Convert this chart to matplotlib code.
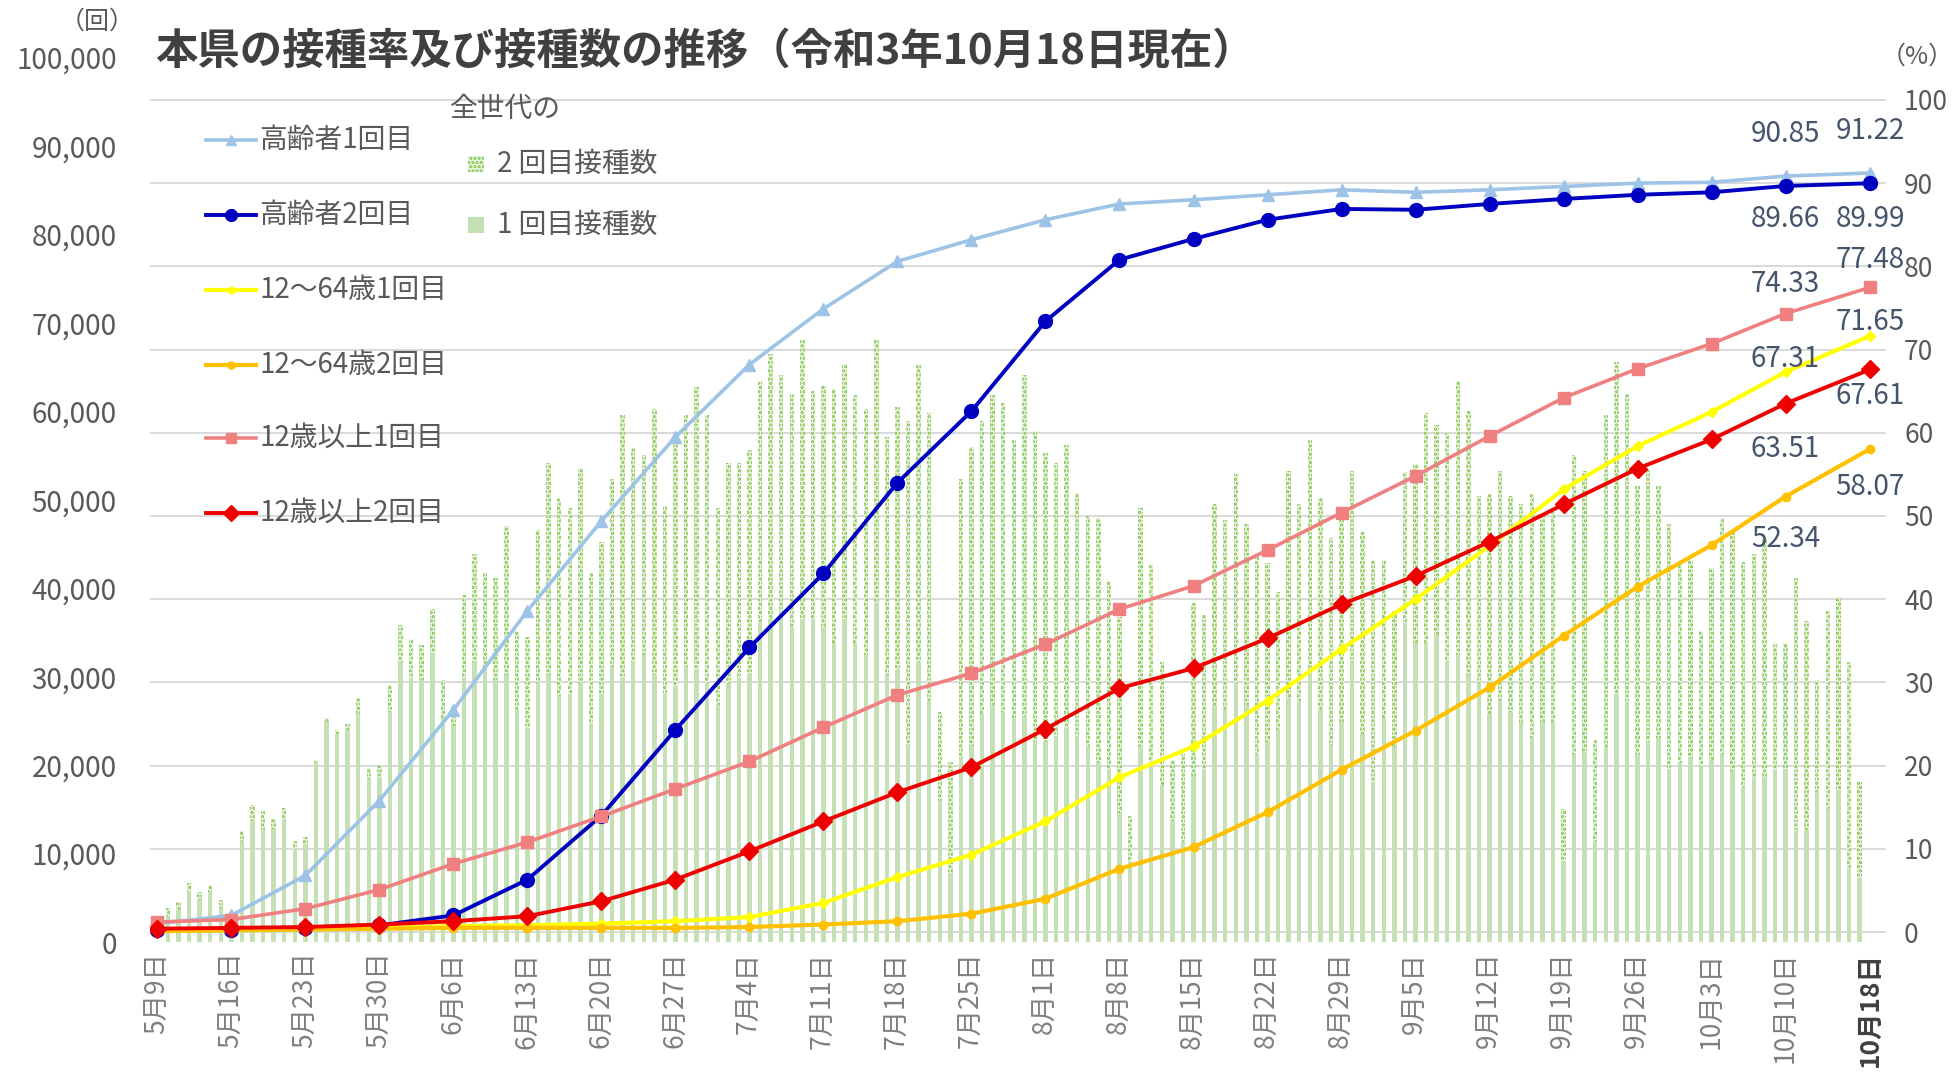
import datetime as dt
import matplotlib
matplotlib.use("Agg")
import matplotlib.pyplot as plt
from matplotlib.lines import Line2D
from matplotlib.patches import Rectangle
from matplotlib.ticker import FuncFormatter

plt.rcParams['font.family'] = ['Noto Sans CJK JP', 'DejaVu Sans']
plt.rcParams['hatch.linewidth'] = 1.6

start = dt.date(2021, 5, 9)

# weekly points (days since 5/9) and the last day 10/18
week_days = list(range(0, 155, 7)) + [162]
week_labels = []
for d in week_days:
    day = start + dt.timedelta(days=d)
    week_labels.append(f"{day.month}月{day.day}日")

# daily counts, from 5/10 (day 1) to 10/17 (day 161)
bar_days = list(range(1, 162))
dose1 = [2900, 3600, 5800, 4700, 5600, 3800, 2600, 11400, 13700, 12500,
         12800, 13700, 10500, 11000, 20400, 24900, 23500, 24000, 25800, 18400,
         18500, 26000, 31600, 29800, 29600, 32700, 25300, 24400, 29800, 31600,
         30700, 29500, 30200, 26200, 24200, 29300, 30200, 27800, 28000, 29300,
         24600, 28000, 31100, 29800, 31600, 32500, 30200, 28000, 28900, 31100,
         30700, 29300, 26700, 29300, 29800, 30200, 36100, 36500, 37400, 35600,
         36500, 36500, 35600, 33800, 36500, 33800, 32500, 38300, 30200, 30700,
         22200, 31600, 27100, 15900, 7800, 20800, 22200, 25800, 26700, 26000,
         25300, 25500, 22600, 22600, 23300, 24200, 23300, 22200, 20400, 19500,
         14600, 9200, 22200, 19900, 17700, 13700, 11400, 18800, 19500, 26700,
         26200, 29300, 26700, 21300, 22600, 24000, 27600, 27100, 31100, 26200,
         22200, 24900, 31600, 23500, 18100, 25300, 22200, 36100, 33800, 33800,
         34700, 31600, 32500, 30200, 29300, 25800, 27100, 26000, 24900, 23100,
         24900, 24900, 9200, 21300, 21500, 11400, 22000, 28000, 27100, 21300,
         22600, 23100, 19500, 20200, 20800, 19900, 20600, 21300, 19300, 17500,
         18600, 18600, 19500, 19500, 12500, 12500, 17000, 15000, 17200, 8300,
         7200]
dose2 = [900, 900, 900, 900, 900, 900, 400, 1100, 1800, 2300,
         1100, 1500, 900, 900, 200, 400, 500, 600, 1800, 1300,
         1500, 3100, 4200, 4500, 4000, 4900, 4300, 2300, 9400, 12300,
         11000, 11700, 16800, 9000, 10300, 17300, 24000, 22400, 21100, 24300,
         17100, 17200, 21300, 29800, 24200, 22600, 30100, 21300, 27800, 28500,
         32000, 30300, 22400, 24900, 24400, 25400, 27300, 30000, 26700, 26400,
         31600, 25800, 27300, 28700, 28900, 28000, 27800, 29800, 26900, 29800,
         36700, 33600, 32700, 10100, 12600, 31600, 33800, 33100, 35100, 34900,
         31400, 38600, 35200, 32700, 30900, 32000, 27500, 26000, 27500, 21300,
         22100, 5100, 26900, 22700, 13900, 6900, 9900, 19500, 17500, 22800,
         21500, 23600, 20600, 22400, 20200, 15600, 25700, 22400, 25600, 24000,
         23500, 23700, 21700, 22900, 25100, 17900, 15200, 17000, 20200, 26000,
         23800, 26000, 30900, 29800, 21100, 24800, 26200, 24400, 24600, 27500,
         23300, 23700, 5800, 33800, 31800, 11400, 37600, 37600, 34900, 30200,
         30900, 28400, 27800, 23000, 22400, 15300, 21700, 26600, 27100, 25500,
         25300, 27100, 14300, 14300, 28700, 23800, 12600, 22400, 21800, 23300,
         10900]

# vaccination rates (%)
elder1 = [1.0, 2.0, 6.8, 15.8, 26.7, 38.6, 49.4, 59.5, 68.2, 74.9, 80.6, 83.2,
          85.6, 87.5, 88.0, 88.6, 89.2, 88.9, 89.2, 89.6, 90.0, 90.1, 90.85, 91.22]
elder2 = [0.2, 0.3, 0.5, 0.8, 2.0, 6.3, 14.0, 24.3, 34.2, 43.1, 54.0, 62.6,
          73.4, 80.8, 83.3, 85.6, 86.9, 86.8, 87.5, 88.1, 88.6, 88.9, 89.66, 89.99]
age1 = [0.2, 0.3, 0.4, 0.5, 0.7, 0.8, 1.0, 1.3, 1.8, 3.5, 6.6, 9.3,
        13.3, 18.6, 22.3, 27.8, 34.0, 40.0, 46.4, 53.2, 58.4, 62.5, 67.31, 71.65]
age2 = [0.1, 0.2, 0.3, 0.4, 0.5, 0.5, 0.5, 0.5, 0.6, 0.9, 1.3, 2.2,
        4.0, 7.6, 10.2, 14.4, 19.5, 24.2, 29.4, 35.6, 41.5, 46.5, 52.34, 58.07]
over1 = [1.2, 1.5, 2.8, 5.1, 8.2, 10.8, 13.9, 17.2, 20.5, 24.6, 28.5, 31.1,
         34.6, 38.8, 41.6, 45.9, 50.4, 54.8, 59.6, 64.2, 67.7, 70.7, 74.33, 77.48]
over2 = [0.4, 0.5, 0.6, 0.9, 1.3, 1.9, 3.7, 6.3, 9.7, 13.3, 16.8, 19.8,
         24.4, 29.3, 31.7, 35.3, 39.4, 42.8, 46.9, 51.4, 55.7, 59.2, 63.51, 67.61]

series = [
    ("高齢者1回目", elder1, "#9dc3e6", "^", 9, 2.6),
    ("高齢者2回目", elder2, "#0000c0", "o", 10, 2.8),
    ("12～64歳1回目", age1, "#ffff00", "D", 5, 3.0),
    ("12～64歳2回目", age2, "#ffc000", "o", 6, 3.0),
    ("12歳以上1回目", over1, "#f08080", "s", 9, 2.6),
    ("12歳以上2回目", over2, "#ee0000", "D", 9, 2.8),
]

# end labels: (x index, series values, dy offset in %)
end_labels = [
    (-2, elder1, 5.0), (-1, elder1, 5.0),
    (-2, elder2, -4.0), (-1, elder2, -4.3),
    (-2, over1, 3.5), (-1, over1, 3.3),
    (-1, age1, 1.7), (-2, age1, 1.6),
    (-1, over2, -3.2), (-2, over2, -5.5),
    (-1, age2, -4.6), (-2, age2, -5.1),
]

W, H = 1959, 1072
fig = plt.figure(figsize=(W / 100, H / 100), dpi=100)
ax = fig.add_axes([150 / W, 130 / H, (1886 - 150) / W, (1014.5 - 130) / H])
ax2 = ax.twinx()

left_lim = (0, 100000)
right_lim = (-1.2, 105.1)
ax.set_ylim(*left_lim)
ax2.set_ylim(*right_lim)
ax.set_xlim(-0.7, 163.5)

# gridlines follow the right axis, drawn under the bars
for p in range(0, 101, 10):
    v = left_lim[0] + (p - right_lim[0]) / (right_lim[1] - right_lim[0]) * (left_lim[1] - left_lim[0])
    ax.axhline(v, color="#d9d9d9", lw=1.4, zorder=0)

ax.bar(bar_days, dose1, width=0.42, color="#c5e0b4", lw=0, zorder=2)
ax.bar(bar_days, dose2, bottom=dose1, width=0.42, facecolor="#eef7e6",
       edgecolor="#7cc242", hatch="....", lw=0, zorder=2)

for name, vals, col, mk, ms, lw in series:
    ax2.plot(week_days, vals, color=col, marker=mk, markersize=ms, lw=lw, zorder=3)

for idx, vals, dy in end_labels:
    ax2.text(week_days[idx], vals[idx] + dy, f"{vals[idx]:.2f}", ha="center", va="center",
             fontsize=20, color="#44546a")

for a in (ax, ax2):
    for s in a.spines.values():
        s.set_visible(False)

ax.set_yticks(range(0, 100001, 10000))
ax.yaxis.set_major_formatter(FuncFormatter(lambda v, p: f"{int(v):,}"))
ax.tick_params(axis="y", length=0, pad=24, labelsize=20, labelcolor="#595959")
ax2.set_yticks(range(0, 101, 10))
ax2.tick_params(axis="y", length=0, pad=13, labelsize=19, labelcolor="#595959")

ax.set_xticks(week_days)
ax.set_xticklabels(week_labels, rotation=90, va="top")
ax.tick_params(axis="x", length=0, pad=7, labelsize=19, labelcolor="#7f7f7f")
last = ax.get_xticklabels()[-1]
last.set_fontweight("bold")
last.set_color("#404040")
last.set_fontsize(19)


def fx(px):
    return px / W


def fy(py):
    return 1 - py / H


fig.text(fx(155), fy(52), "本県の接種率及び接種数の推移（令和3年10月18日現在）",
         fontsize=30.5, fontweight="bold", color="#404040", va="center")
fig.text(fx(97), fy(22), "（回）", fontsize=18, color="#595959", ha="center", va="center")
fig.text(fx(1917), fy(57), "（%）", fontsize=18, color="#595959", ha="center", va="center")

# legend for the lines
rows = [140, 215, 290, 365, 438, 513]
for (name, vals, col, mk, ms, lw), ry in zip(series, rows):
    fig.add_artist(Line2D([fx(206), fx(256)], [fy(ry), fy(ry)], color=col, lw=lw,
                          transform=fig.transFigure))
    fig.add_artist(Line2D([fx(231)], [fy(ry)], color=col, marker=mk, markersize=ms * 0.85,
                          transform=fig.transFigure))
    fig.text(fx(259), fy(ry), name, fontsize=20, color="#595959", va="center")

# legend for the bars
fig.text(fx(450), fy(109), "全世代の", fontsize=20, color="#595959", va="center")
fig.add_artist(Rectangle((fx(468), fy(172)), 16 / W, 16 / H, transform=fig.transFigure,
                         facecolor="#eef7e6", edgecolor="#7cc242", hatch="....", lw=0))
fig.text(fx(497), fy(164), "2 回目接種数", fontsize=20, color="#595959", va="center")
fig.add_artist(Rectangle((fx(468), fy(233)), 16 / W, 16 / H, transform=fig.transFigure,
                         facecolor="#c5e0b4", lw=0))
fig.text(fx(497), fy(225), "1 回目接種数", fontsize=20, color="#595959", va="center")

fig.savefig("out.png", dpi=100)
